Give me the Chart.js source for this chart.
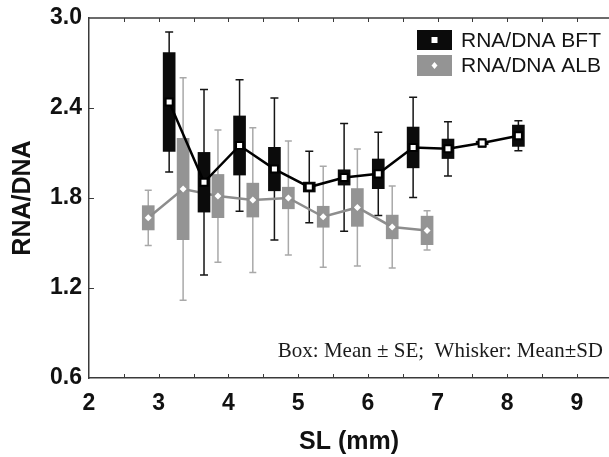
<!DOCTYPE html>
<html>
<head>
<meta charset="utf-8">
<script src="https://cdn.jsdelivr.net/npm/chart.js@4.4.1/dist/chart.umd.min.js"></script>
<style>
  html, body { margin: 0; padding: 0; background: #fff; }
  #wrap { width: 609px; height: 457px; }
</style>
</head>
<body>
<div id="wrap"><canvas id="rnaChart" width="609" height="457"></canvas></div>
<script>
// RNA/DNA by size class (SL, mm): mean, standard error, standard deviation
const bftSL   = [3.15, 3.65, 4.16, 4.66, 5.16, 5.66, 6.15, 6.65, 7.15, 7.64, 8.16];
const bftMean = [2.44, 1.905, 2.15, 1.993, 1.873, 1.937, 1.961, 2.137, 2.128, 2.167, 2.215];
const bftSE   = [0.33, 0.199, 0.197, 0.145, 0.033, 0.051, 0.099, 0.136, 0.065, 0.012, 0.071];
const bftSD   = [0.467, 0.619, 0.439, 0.473, 0.238, 0.359, 0.277, 0.334, 0.181, 0.027, 0.10];

const albSL   = [2.85, 3.35, 3.85, 4.35, 4.86, 5.36, 5.85, 6.35, 6.85];
const albMean = [1.668, 1.86, 1.813, 1.786, 1.80, 1.675, 1.737, 1.607, 1.584];
const albSE   = [0.081, 0.337, 0.144, 0.113, 0.072, 0.07, 0.126, 0.079, 0.095];
const albSD   = [0.184, 0.742, 0.441, 0.483, 0.38, 0.337, 0.39, 0.273, 0.131];

const xTicks = { min: 2, max: 9.46, step: 0.5 };
const yTicks = { min: 0.6, max: 3.0, step: 0.6 };

const SANS = '"Liberation Sans", Arial, sans-serif';
const SERIF = '"Liberation Serif", "Times New Roman", serif';
const AXIS = '#3a3a3a';

function boxData(sl, mean, se) {
    return sl.map((x, i) => ({ x: x, y: [mean[i] - se[i], mean[i] + se[i]] }));
}
function meanData(sl, mean) {
    return sl.map((x, i) => ({ x: x, y: mean[i] }));
}

// whiskers (mean +/- SD) drawn under the boxes
const whiskerPlugin = {
    id: 'whiskers',
    beforeDatasetsDraw(chart) {
        const { ctx, scales: { x, y } } = chart;
        const sets = [
            { sl: albSL, mean: albMean, sd: albSD, color: '#a9a9a9', cap: 7 },
            { sl: bftSL, mean: bftMean, sd: bftSD, color: '#151515', cap: 8 }
        ];
        ctx.save();
        ctx.lineWidth = 1.5;
        sets.forEach(s => {
            ctx.strokeStyle = s.color;
            s.sl.forEach((sl, i) => {
                const px = x.getPixelForValue(sl);
                const top = y.getPixelForValue(s.mean[i] + s.sd[i]);
                const bot = y.getPixelForValue(s.mean[i] - s.sd[i]);
                ctx.beginPath();
                ctx.moveTo(px, top); ctx.lineTo(px, bot);
                ctx.moveTo(px - s.cap / 2, top); ctx.lineTo(px + s.cap / 2, top);
                ctx.moveTo(px - s.cap / 2, bot); ctx.lineTo(px + s.cap / 2, bot);
                ctx.stroke();
            });
        });
        ctx.restore();
    }
};

// frame: top line plus inward tick marks on left, bottom and top
const framePlugin = {
    id: 'frame',
    afterDatasetsDraw(chart) {
        const { ctx, chartArea: a, scales: { x, y } } = chart;
        ctx.save();
        ctx.strokeStyle = AXIS;
        ctx.lineWidth = 1.5;
        ctx.beginPath();
        ctx.moveTo(a.left, a.top); ctx.lineTo(a.right, a.top);
        ctx.stroke();
        ctx.lineWidth = 1;
        ctx.beginPath();
        for (let v = xTicks.min + xTicks.step; v < xTicks.max; v += xTicks.step) {
            const px = Math.round(x.getPixelForValue(v)) + 0.5;
            ctx.moveTo(px, a.bottom); ctx.lineTo(px, a.bottom - 4);
            ctx.moveTo(px, a.top); ctx.lineTo(px, a.top + 4);
        }
        y.ticks.forEach(t => {
            if (t.value <= yTicks.min + 1e-6 || t.value >= yTicks.max - 1e-6) return;
            const py = Math.round(y.getPixelForValue(t.value)) + 0.5;
            ctx.moveTo(a.left, py); ctx.lineTo(a.left + 5, py);
        });
        ctx.stroke();
        ctx.restore();
    }
};

// legend swatches and the note about boxes/whiskers
const notesPlugin = {
    id: 'notes',
    afterDraw(chart) {
        const { ctx } = chart;
        const entries = [
            { ds: chart.data.datasets[1], y: 30, h: 20 },
            { ds: chart.data.datasets[3], y: 55, h: 21 }
        ];
        ctx.save();
        entries.forEach(e => {
            const bx = 417, bw = 35;
            ctx.fillStyle = e.ds.backgroundColor;
            ctx.fillRect(bx, e.y, bw, e.h);
            const cx = bx + bw / 2, cy = e.y + e.h / 2;
            ctx.fillStyle = '#fff';
            if (e.ds.markerStyle === 'rect') {
                ctx.fillRect(cx - 3, cy - 3, 6, 6);
            } else {
                ctx.beginPath();
                ctx.moveTo(cx, cy - 3.5); ctx.lineTo(cx + 3, cy);
                ctx.lineTo(cx, cy + 3.5); ctx.lineTo(cx - 3, cy);
                ctx.closePath(); ctx.fill();
            }
            ctx.fillStyle = '#141414';
            ctx.font = '21px ' + SANS;
            ctx.textAlign = 'left';
            ctx.textBaseline = 'middle';
            ctx.fillText(e.ds.label, 461, cy + 1);
        });
        ctx.font = '21px ' + SERIF;
        ctx.fillStyle = '#1a1a1a';
        ctx.textAlign = 'right';
        ctx.textBaseline = 'middle';
        ctx.fillText('Box: Mean \u00B1 SE;  Whisker: Mean\u00B1SD', 603, 351);
        ctx.restore();
    }
};

const ctx = document.getElementById('rnaChart');
new Chart(ctx.getContext('2d'), {
    type: 'bar',
    data: {
        datasets: [
            {
                type: 'line', label: 'BFT mean', data: meanData(bftSL, bftMean),
                borderColor: '#000', borderWidth: 2.5,
                pointStyle: 'rect', pointRadius: 5, pointBackgroundColor: '#fff',
                pointBorderColor: '#000', pointBorderWidth: 2, order: 1
            },
            {
                type: 'bar', label: 'RNA/DNA BFT', data: boxData(bftSL, bftMean, bftSE),
                backgroundColor: '#0b0b0b', barThickness: 12, grouped: false,
                markerStyle: 'rect', order: 2
            },
            {
                type: 'line', label: 'ALB mean', data: meanData(albSL, albMean),
                borderColor: '#8d8d8d', borderWidth: 2.5,
                pointStyle: 'rectRot', pointRadius: 3.5, pointBackgroundColor: '#fff',
                pointBorderWidth: 0, order: 3
            },
            {
                type: 'bar', label: 'RNA/DNA ALB', data: boxData(albSL, albMean, albSE),
                backgroundColor: '#949494', barThickness: 12, grouped: false,
                markerStyle: 'diamond', order: 4
            }
        ]
    },
    options: {
        responsive: false,
        animation: false,
        layout: { autoPadding: false, padding: { top: 18, left: 0, right: 0, bottom: 0 } },
        plugins: { legend: { display: false }, tooltip: { enabled: false } },
        scales: {
            x: {
                type: 'linear', position: 'bottom', min: xTicks.min, max: xTicks.max, offset: false,
                grid: { display: true, drawOnChartArea: false, drawTicks: false, offset: false },
                border: { display: true, color: AXIS, width: 1.5 },
                ticks: {
                    stepSize: 1, includeBounds: false, autoSkip: false, maxRotation: 0,
                    padding: 12, color: '#111',
                    font: { family: SANS, size: 23, weight: 'bold' },
                    callback: v => (Math.abs(v - Math.round(v)) < 1e-6 ? String(Math.round(v)) : '')
                },
                title: {
                    display: true, text: 'SL (mm)', color: '#111',
                    font: { family: SANS, size: 25, weight: 'bold' },
                    padding: { top: 0, bottom: 0 }
                },
                afterFit: s => { s.height = 79; s.paddingLeft = 0; s.paddingRight = 0; }
            },
            y: {
                type: 'linear', min: yTicks.min, max: yTicks.max,
                grid: { display: true, drawOnChartArea: false, drawTicks: false },
                border: { display: true, color: AXIS, width: 1.5 },
                ticks: {
                    stepSize: yTicks.step, padding: 7, color: '#111',
                    font: { family: SANS, size: 23, weight: 'bold' },
                    callback: v => Number(v).toFixed(1)
                },
                title: {
                    display: true, text: 'RNA/DNA', color: '#111',
                    font: { family: SANS, size: 25, weight: 'bold' },
                    padding: { top: 8, bottom: 0 }
                },
                afterFit: s => { s.width = 89; s.paddingTop = 0; s.paddingBottom = 0; }
            }
        }
    },
    plugins: [whiskerPlugin, framePlugin, notesPlugin]
});
</script>
</body>
</html>
